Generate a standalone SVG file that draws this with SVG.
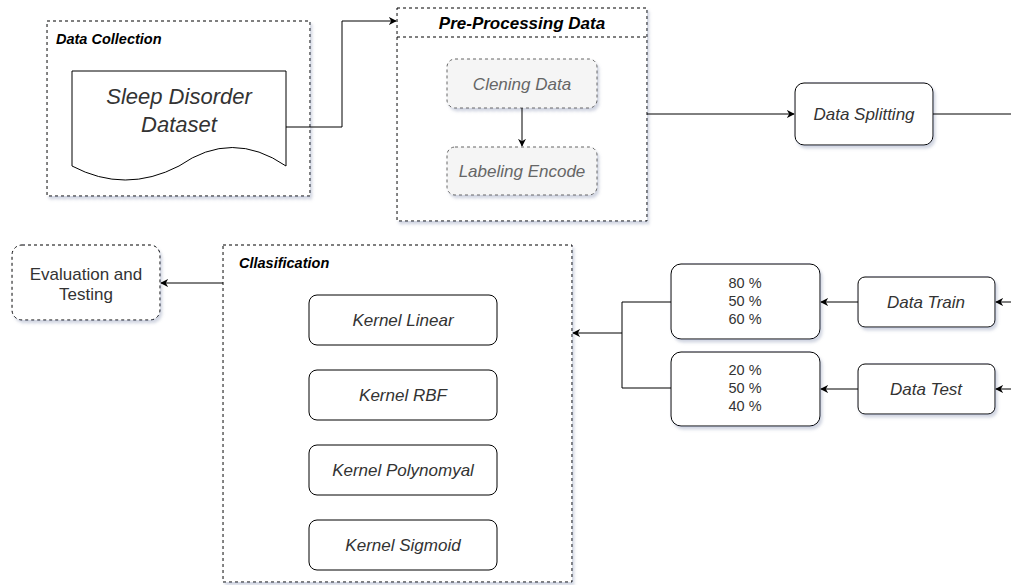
<svg xmlns="http://www.w3.org/2000/svg" width="1011" height="585" viewBox="0 0 1011 585">
<defs>
<filter id="sh" x="-10%" y="-10%" width="130%" height="140%">
<feDropShadow dx="2" dy="3" stdDeviation="1.5" flood-color="#7a86a8" flood-opacity="0.35"/>
</filter>
<marker id="arr" viewBox="0 0 10 10" refX="9" refY="5" markerWidth="8" markerHeight="8" markerUnits="userSpaceOnUse" orient="auto">
<path d="M0,0 L10,5 L0,10 L3,5 Z" fill="#000"/>
</marker>
</defs>
<style>
text{font-family:"Liberation Sans",Arial,sans-serif;fill:#333;}
.it{font-style:italic;font-size:17px;}
.title{font-style:italic;font-weight:bold;font-size:14.5px;fill:#000;}
.cont{fill:#fff;stroke:#000;stroke-width:1;stroke-dasharray:3 3;}
.box{fill:#fff;stroke:#000;stroke-width:1;}
.gbox{fill:#f5f5f5;stroke:#666;stroke-width:1;stroke-dasharray:3 3;}
.pct{font-size:14.5px;}
.edge{fill:none;stroke:#000;stroke-width:1;}
</style>

<g id="data-collection">
<rect class="cont" x="47" y="21" width="263" height="175" filter="url(#sh)"/>
<text class="title" x="56" y="44">Data Collection</text>
</g>
<g id="sleep-dataset">
<path class="box" d="M72,71 L286,71 L286,166 Q232,129 179,166 Q125,194 72,166 Z"/>
<text class="it" style="font-size:22px" x="179" y="104" text-anchor="middle">Sleep Disorder</text>
<text class="it" style="font-size:22px" x="179" y="132" text-anchor="middle">Dataset</text>
</g>

<g id="pre-processing">
<rect class="cont" x="397" y="8" width="250" height="213" filter="url(#sh)"/>
<line x1="397" y1="37" x2="647" y2="37" stroke="#000" stroke-dasharray="3 3"/>
<text class="title" style="font-size:17px" x="522" y="29" text-anchor="middle">Pre-Processing Data</text>
</g>
<g id="cleaning-data">
<rect class="gbox" x="447" y="59" width="150" height="49" rx="8" filter="url(#sh)"/>
<text class="it" style="fill:#666" x="522" y="90" text-anchor="middle">Clening Data</text>
</g>
<g id="labeling-encode">
<rect class="gbox" x="447" y="147" width="150" height="48" rx="8" filter="url(#sh)"/>
<text class="it" style="fill:#666" x="522" y="177" text-anchor="middle">Labeling Encode</text>
</g>

<g id="data-splitting">
<rect class="box" x="795" y="83" width="138" height="62" rx="9" filter="url(#sh)"/>
<text class="it" x="864" y="120" text-anchor="middle">Data Splitting</text>
</g>

<g id="evaluation">
<rect class="cont" x="12" y="245" width="148" height="75" rx="10" filter="url(#sh)"/>
<text x="86" y="280" text-anchor="middle" font-size="17">Evaluation and</text>
<text x="86" y="300" text-anchor="middle" font-size="17">Testing</text>
</g>

<g id="classification">
<rect class="cont" x="223" y="245" width="349" height="337" filter="url(#sh)"/>
<text class="title" x="239" y="268">Cllasification</text>
</g>
<g id="kernel-linear">
<rect class="box" x="309" y="295" width="188" height="50" rx="8"/>
<text class="it" x="403" y="326" text-anchor="middle">Kernel Linear</text>
</g>
<g id="kernel-rbf">
<rect class="box" x="309" y="370" width="188" height="50" rx="8"/>
<text class="it" x="403" y="401" text-anchor="middle">Kernel RBF</text>
</g>
<g id="kernel-poly">
<rect class="box" x="309" y="445" width="188" height="50" rx="8"/>
<text class="it" x="403" y="476" text-anchor="middle">Kernel Polynomyal</text>
</g>
<g id="kernel-sigmoid">
<rect class="box" x="309" y="520" width="188" height="50" rx="8"/>
<text class="it" x="403" y="551" text-anchor="middle">Kernel Sigmoid</text>
</g>

<g id="train-pct">
<rect class="box" x="671" y="264" width="149" height="75" rx="10" filter="url(#sh)"/>
<text class="pct" x="745" y="288" text-anchor="middle">80 %</text>
<text class="pct" x="745" y="306" text-anchor="middle">50 %</text>
<text class="pct" x="745" y="324" text-anchor="middle">60 %</text>
</g>
<g id="test-pct">
<rect class="box" x="671" y="352" width="149" height="74" rx="10" filter="url(#sh)"/>
<text class="pct" x="745" y="375" text-anchor="middle">20 %</text>
<text class="pct" x="745" y="393" text-anchor="middle">50 %</text>
<text class="pct" x="745" y="411" text-anchor="middle">40 %</text>
</g>
<g id="data-train">
<rect class="box" x="858" y="277" width="137" height="50" rx="7" filter="url(#sh)"/>
<text class="it" x="926" y="308" text-anchor="middle">Data Train</text>
</g>
<g id="data-test">
<rect class="box" x="858" y="364" width="137" height="50" rx="7" filter="url(#sh)"/>
<text class="it" x="926" y="395" text-anchor="middle">Data Test</text>
</g>

<g id="connectors">
<path class="edge" d="M286,127 L342,127 L342,21 L396,21" marker-end="url(#arr)"/>
<path class="edge" d="M522,108 L522,146" marker-end="url(#arr)"/>
<path class="edge" d="M647,114 L794,114" marker-end="url(#arr)"/>
<path class="edge" d="M933,114 L1011,114"/>
<path class="edge" d="M223,283 L161,283" marker-end="url(#arr)"/>
<path class="edge" d="M1011,302 L996,302" marker-end="url(#arr)"/>
<path class="edge" d="M1011,389 L996,389" marker-end="url(#arr)"/>
<path class="edge" d="M858,302 L821,302" marker-end="url(#arr)"/>
<path class="edge" d="M858,389 L821,389" marker-end="url(#arr)"/>
<path class="edge" d="M671,302 L622,302 L622,388 L671,388"/>
<path class="edge" d="M622,333 L573,333" marker-end="url(#arr)"/>
</g>
</svg>
